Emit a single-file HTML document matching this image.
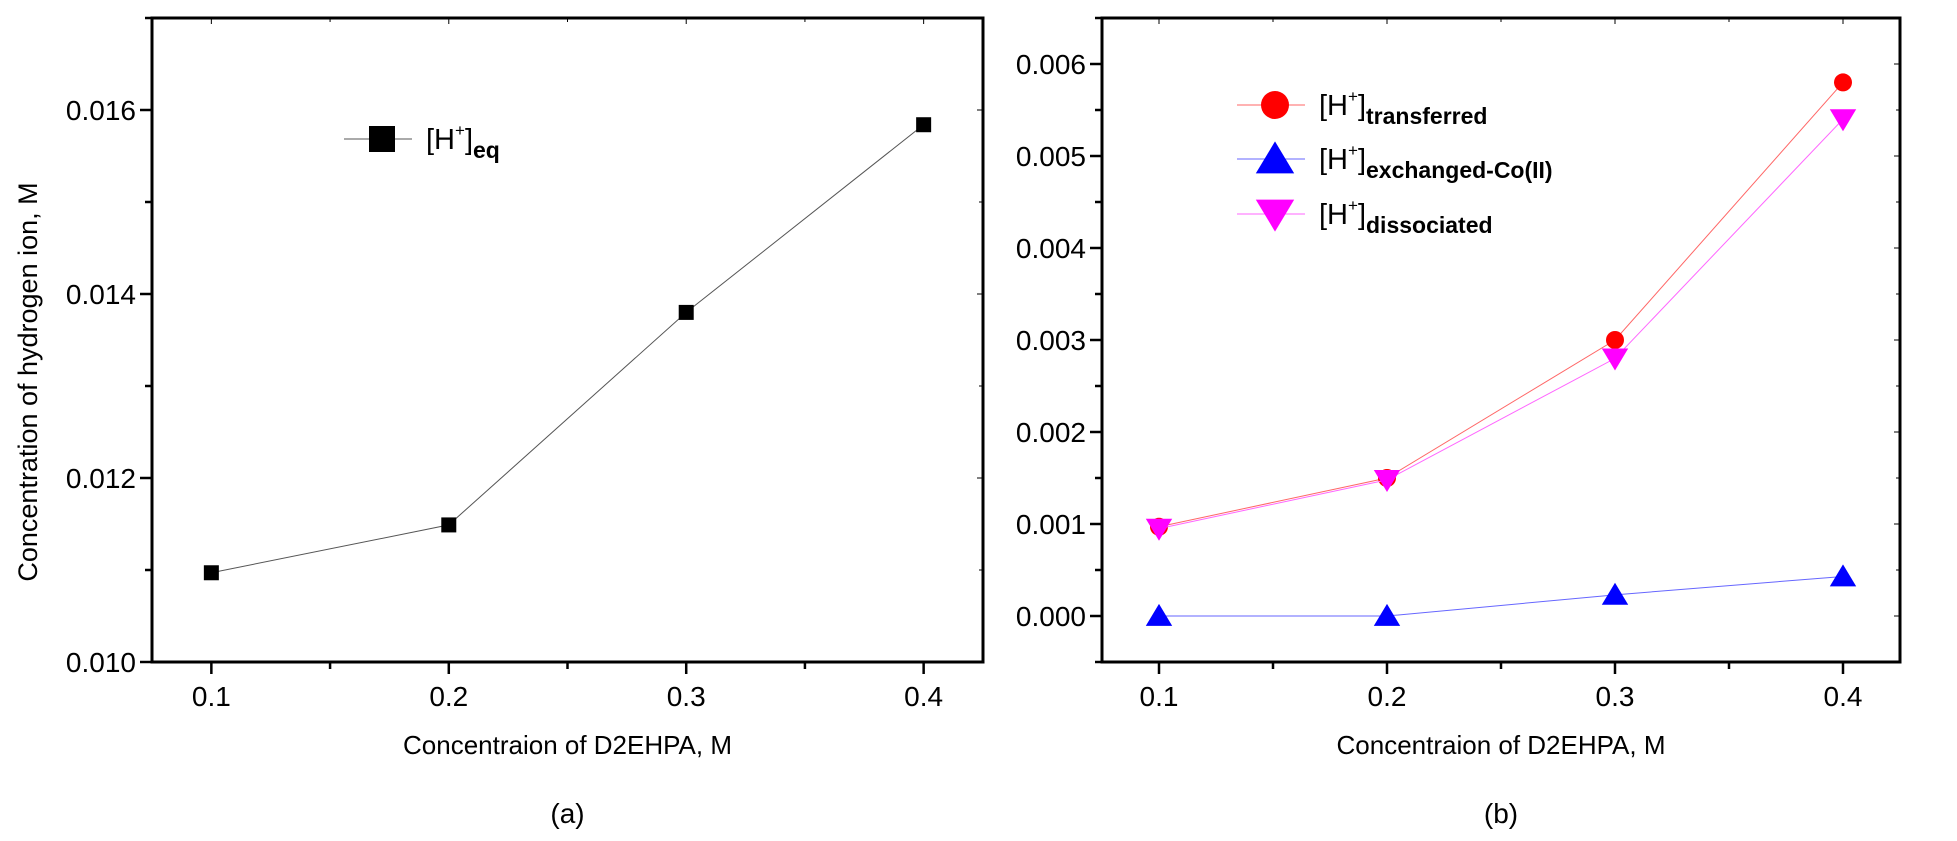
<!DOCTYPE html>
<html><head><meta charset="utf-8"><style>
html,body{margin:0;padding:0;background:#fff;}
svg{display:block;font-family:"Liberation Sans",Arial,sans-serif;}
</style></head><body>
<svg id="c" width="1957" height="841" viewBox="0 0 1957 841" xmlns="http://www.w3.org/2000/svg"></svg>
<script>
const xCats = [0.1, 0.2, 0.3, 0.4];
const xTickLabels = ["0.1","0.2","0.3","0.4"];
const hEq = [0.01097, 0.01149, 0.0138, 0.01584];
const leftYTicks = [0.010, 0.012, 0.014, 0.016];
const leftYTickLabels = ["0.010","0.012","0.014","0.016"];
const hTransferred = [0.00097, 0.0015, 0.0030, 0.0058];
const hExchanged = [0.0, 0.0, 0.00023, 0.00043];
const hDissociated = [0.00095, 0.00148, 0.0028, 0.0054];
const rightYTicks = [0.000, 0.001, 0.002, 0.003, 0.004, 0.005, 0.006];
const rightYTickLabels = ["0.000","0.001","0.002","0.003","0.004","0.005","0.006"];

const NS="http://www.w3.org/2000/svg";
const svg=document.getElementById('c');
function mk(tag,attrs,parent){const e=document.createElementNS(NS,tag);for(const k in attrs)e.setAttribute(k,attrs[k]);(parent||svg).appendChild(e);return e;}

function panel(o){
  const g=mk('g',{});
  
  
  const sx=v=>o.x0+(v-o.xmin)/(o.xmax-o.xmin)*(o.x1-o.x0);
  const sy=v=>o.y1-(v-o.ymin)/(o.ymax-o.ymin)*(o.y1-o.y0);
  const frame=mk('rect',{x:o.x0,y:o.y0,width:o.x1-o.x0,height:o.y1-o.y0,fill:'none',stroke:'#000','stroke-width':3},g);
  
  
  for(let i=0;i<xCats.length;i++){
    const x=sx(xCats[i]);
    mk('line',{x1:x,y1:o.y1,x2:x,y2:o.y1+12,stroke:'#000','stroke-width':2.5},g);
    mk('line',{x1:x,y1:o.y0,x2:x,y2:o.y0+6,stroke:'#000','stroke-width':1},g);
    const t=mk('text',{x:x,y:o.y1+44,'font-size':28,'text-anchor':'middle'},g);
    t.textContent=xTickLabels[i];
    
    
    if(i<xCats.length-1){
      const xm=sx((xCats[i]+xCats[i+1])/2);
      mk('line',{x1:xm,y1:o.y1,x2:xm,y2:o.y1+7,stroke:'#000','stroke-width':2.5},g);
      mk('line',{x1:xm,y1:o.y0,x2:xm,y2:o.y0+4,stroke:'#000','stroke-width':1},g);
    }
  }
  const step=o.yticks[1]-o.yticks[0];
  for(let i=0;i<o.yticks.length;i++){
    const y=sy(o.yticks[i]);
    mk('line',{x1:o.x0,y1:y,x2:o.x0-12,y2:y,stroke:'#000','stroke-width':2.5},g);
    mk('line',{x1:o.x1,y1:y,x2:o.x1-6,y2:y,stroke:'#000','stroke-width':1},g);
    const t=mk('text',{x:o.x0-16,y:y+10,'font-size':28,'text-anchor':'end'},g);
    t.textContent=o.ylabels[i];
    
    
  }
  for(let v=o.yticks[0]-step/2; v<=o.ymax+1e-9; v+=step){
    if(v<o.ymin-1e-9) continue;
    const y=sy(v);
    mk('line',{x1:o.x0,y1:y,x2:o.x0-7,y2:y,stroke:'#000','stroke-width':2.5},g);
    mk('line',{x1:o.x1,y1:y,x2:o.x1-4,y2:y,stroke:'#000','stroke-width':1},g);
  }
  const xt=mk('text',{x:(o.x0+o.x1)/2,y:o.y1+92,'font-size':26,'text-anchor':'middle'},g);
  xt.textContent='Concentraion of D2EHPA, M';
  
  
  const pl=mk('text',{x:(o.x0+o.x1)/2,y:823,'font-size':28,'text-anchor':'middle'},g);
  pl.textContent=o.panelLabel;
  
  
  return {g,sx,sy};
}

function marker(g,shape,x,y,s,color){
  let e;
  if(shape==='square') e=mk('rect',{x:x-s/2,y:y-s/2,width:s,height:s,fill:color},g);
  else if(shape==='circle') e=mk('circle',{cx:x,cy:y,r:s/2,fill:color},g);
  else if(shape==='up') e=mk('polygon',{points:`${x},${y-s*0.55} ${x-s*0.6},${y+s*0.45} ${x+s*0.6},${y+s*0.45}`,fill:color},g);
  else e=mk('polygon',{points:`${x},${y+s*0.55} ${x-s*0.6},${y-s*0.45} ${x+s*0.6},${y-s*0.45}`,fill:color},g);
  return e;
}
function series(p,vals,shape,size,color,lineColor,name){
  const sg=mk('g',{},p.g);
  
  
  const pts=vals.map((v,i)=>p.sx(xCats[i])+','+p.sy(v)).join(' ');
  mk('polyline',{points:pts,fill:'none',stroke:lineColor,'stroke-width':1},sg);
  vals.forEach((v,i)=>{
    const m=marker(sg,shape,p.sx(xCats[i]),p.sy(v),size,color);
    
    
  });
}
function legend(g,x,y,shape,size,color,lineColor,sub,name){
  const lg=mk('g',{},g);
  
  
  mk('line',{x1:x-38,y1:y,x2:x+30,y2:y,stroke:lineColor,'stroke-width':1},lg);
  marker(lg,shape,x,y,size,color);
  const t=mk('text',{x:x+44,y:y+10,'font-size':29},lg);
  t.innerHTML='[H<tspan font-size="17" dy="-13">+</tspan><tspan dy="13">]</tspan><tspan dy="9" font-size="23" font-weight="bold">'+sub+'</tspan>';
}

const L=panel({name:'chart-a',x0:152,x1:983,y0:18,y1:662,xmin:0.075,xmax:0.425,ymin:0.010,ymax:0.017,yticks:leftYTicks,ylabels:leftYTickLabels,panelLabel:'(a)'});
series(L,hEq,'square',15,'#000','#555','series-h-eq');
legend(L.g,382,139,'square',26,'#000','#555','eq','legend-h-eq');
const yl=mk('text',{x:0,y:0,'font-size':27,'text-anchor':'middle',transform:'translate(37,382) rotate(-90)'},L.g);
yl.textContent='Concentration of hydrogen ion, M';



const R=panel({name:'chart-b',x0:1102,x1:1900,y0:18,y1:662,xmin:0.075,xmax:0.425,ymin:-0.0005,ymax:0.0065,yticks:rightYTicks,ylabels:rightYTickLabels,panelLabel:'(b)'});
series(R,hExchanged,'up',22,'#0000ff','#6666ff','series-h-exchanged');
series(R,hTransferred,'circle',18,'#ff0000','#ff6666','series-h-transferred');
series(R,hDissociated,'down',22,'#ff00ff','#ff66ff','series-h-dissociated');
legend(R.g,1275,105,'circle',28,'#ff0000','#ff6666','transferred','legend-h-transferred');
legend(R.g,1275,159,'up',32,'#0000ff','#6666ff','exchanged-Co(II)','legend-h-exchanged');
legend(R.g,1275,214,'down',32,'#ff00ff','#ff66ff','dissociated','legend-h-dissociated');
</script>
</body></html>
